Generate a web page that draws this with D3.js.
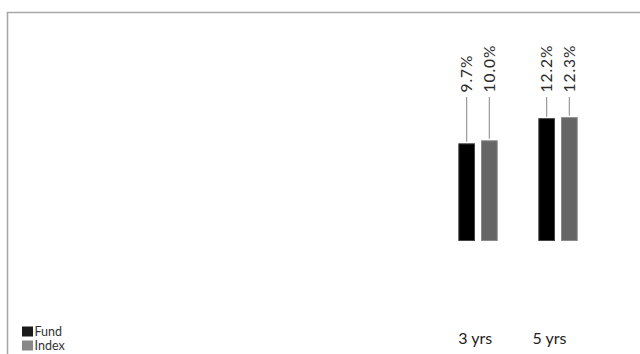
<!DOCTYPE html>
<html>
<head>
<meta charset="utf-8">
<script src="https://cdn.jsdelivr.net/npm/d3@7"></script>
<style>
  html, body { margin: 0; padding: 0; background: #fff; }
  svg { display: block; font-family: Lato, "Open Sans", sans-serif; }
</style>
</head>
<body>
<svg id="chart" width="640" height="354"></svg>
<script>
const categories = ["3 yrs", "5 yrs"];
const seriesNames = ["Fund", "Index"];
const fundValues = [9.7, 12.2];
const indexValues = [10.0, 12.3];
const valueLabels = [["9.7%", "10.0%"], ["12.2%", "12.3%"]];
const colors = { Fund: "#000000", Index: "#666666" };
const strokeColors = { Fund: "#444444", Index: "#8a8a8a" };
const legendColors = { Fund: "#1a1a1a", Index: "#888888" };

const data = categories.map((c, i) => ({
  cat: c,
  values: [
    { name: "Fund", value: fundValues[i], label: valueLabels[i][0] },
    { name: "Index", value: indexValues[i], label: valueLabels[i][1] }
  ]
}));

const svg = d3.select("#chart");

// frame
svg.append("path")
  .attr("d", "M7.5,354 L7.5,12.5 L640,12.5")
  .attr("fill", "none")
  .attr("stroke", "#a8a8a8")
  .attr("stroke-width", 1.6);

const x0 = d3.scaleBand().domain(categories).range([458.3, 577.7]).paddingInner(0.5075).paddingOuter(0);
const x1 = d3.scaleBand().domain(seriesNames).range([0, x0.bandwidth()]).paddingInner(0.2643).paddingOuter(0);
const y = d3.scaleLinear().domain([0, 20]).range([241, 39.6]);
const xLabel = d3.scalePoint().domain(categories).range([475.3, 549.5]);

const groups = svg.selectAll("g.grp").data(data).join("g")
  .attr("class", "grp")
  .attr("transform", d => `translate(${x0(d.cat)},0)`);

groups.selectAll("rect").data(d => d.values).join("rect")
  .attr("x", d => x1(d.name) + 0.5)
  .attr("width", x1.bandwidth() - 1)
  .attr("y", d => y(d.value) + 0.5)
  .attr("height", d => y(0) - y(d.value) - 1)
  .attr("fill", d => colors[d.name])
  .attr("stroke", d => strokeColors[d.name])
  .attr("stroke-width", 1);

// leader lines
const labelBottom = y(20) + 53;
groups.selectAll("line.lead").data(d => d.values).join("line")
  .attr("class", "lead")
  .attr("x1", d => x1(d.name) + x1.bandwidth() / 2)
  .attr("x2", d => x1(d.name) + x1.bandwidth() / 2)
  .attr("y1", labelBottom + 4.5)
  .attr("y2", d => y(d.value) - 1.5)
  .attr("stroke", "#9a9a9a")
  .attr("stroke-width", 1.2);

// value labels
groups.selectAll("text.val").data(d => d.values).join("text")
  .attr("class", "val")
  .attr("transform", d => `translate(${x1(d.name) + x1.bandwidth() / 2 + 5.5},${labelBottom}) rotate(-90)`)
  .attr("text-anchor", "start")
  .attr("font-size", 15.5)
  .attr("letter-spacing", 1)
  .attr("fill", "#2a2a2a")
  .text(d => d.label);

// category labels
svg.selectAll("text.cat").data(categories).join("text")
  .attr("class", "cat")
  .attr("x", d => xLabel(d))
  .attr("y", 344.3)
  .attr("text-anchor", "middle")
  .attr("font-size", 16)
  .attr("fill", "#222")
  .text(d => d);

// legend
const legend = svg.append("g");
const ly = d3.scalePoint().domain(seriesNames).range([326.5, 340.5]);
legend.selectAll("rect").data(seriesNames).join("rect")
  .attr("x", 22)
  .attr("y", d => ly(d))
  .attr("width", 11)
  .attr("height", 10)
  .attr("fill", d => legendColors[d]);
legend.selectAll("text").data(seriesNames).join("text")
  .attr("x", 34.5)
  .attr("y", d => ly(d) + 9.8)
  .attr("font-size", 12.5)
  .attr("fill", "#333")
  .text(d => d);
</script>
</body>
</html>
